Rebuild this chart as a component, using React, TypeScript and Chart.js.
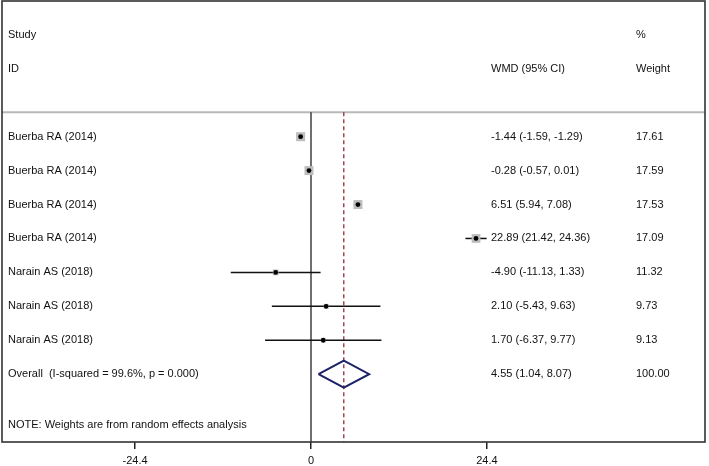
import React, { useEffect, useRef } from "react";
import { Chart, registerables } from "chart.js";

Chart.register(...registerables);

const STUDIES = [
  "Buerba RA (2014)",
  "Buerba RA (2014)",
  "Buerba RA (2014)",
  "Buerba RA (2014)",
  "Narain AS (2018)",
  "Narain AS (2018)",
  "Narain AS (2018)",
];
const ES = [-1.44, -0.28, 6.51, 22.89, -4.9, 2.1, 1.7];
const LO = [-1.59, -0.57, 5.94, 21.42, -11.13, -5.43, -6.37];
const HI = [-1.29, 0.01, 7.08, 24.36, 1.33, 9.63, 9.77];
const WEIGHTS = [17.61, 17.59, 17.53, 17.09, 11.32, 9.73, 9.13];
const OVERALL_LABEL = "Overall  (I-squared = 99.6%, p = 0.000)";
const OVERALL_ES = 4.55;
const OVERALL_LO = 1.04;
const OVERALL_HI = 8.07;
const OVERALL_WEIGHT = "100.00";
const TICKS = [-24.4, 0, 24.4];
const NOTE = "NOTE: Weights are from random effects analysis";

const FONT = '"Liberation Sans", Arial, sans-serif';

function fmt(v: number) {
  return v.toFixed(2);
}

export default function App() {
  const ref = useRef<HTMLCanvasElement | null>(null);

  useEffect(() => {
    if (!ref.current) return;
    const n = ES.length;
    const overallRow = n;
    const sepRow = -0.72;
    const bottomRow = 9;

    const textPlugin = {
      id: "forestText",
      beforeDatasetsDraw(chart: any) {
        const { ctx, chartArea, scales } = chart;
        const y = scales.y;
        ctx.save();
        ctx.strokeStyle = "#b8b8b8";
        ctx.lineWidth = 2;
        ctx.beginPath();
        const sy = y.getPixelForValue(sepRow);
        ctx.moveTo(chartArea.left, sy);
        ctx.lineTo(chartArea.right, sy);
        ctx.stroke();
        ctx.restore();
      },
      afterDatasetsDraw(chart: any) {
        const { ctx, chartArea, scales } = chart;
        const y = scales.y;
        ctx.save();
        ctx.fillStyle = "#111";
        ctx.font = "11px " + FONT;
        ctx.textBaseline = "middle";
        ctx.textAlign = "left";
        const colL = 8;
        const colE = 491;
        const colW = 636;
        ctx.fillText("Study", colL, y.getPixelForValue(-3));
        ctx.fillText("ID", colL, y.getPixelForValue(-2));
        ctx.fillText("WMD (95% CI)", colE, y.getPixelForValue(-2));
        ctx.fillText("%", colW, y.getPixelForValue(-3));
        ctx.fillText("Weight", colW, y.getPixelForValue(-2));
        for (let i = 0; i < n; i++) {
          const py = y.getPixelForValue(i);
          ctx.fillText(STUDIES[i], colL, py);
          ctx.fillText(`${fmt(ES[i])} (${fmt(LO[i])}, ${fmt(HI[i])})`, colE, py);
          ctx.fillText(fmt(WEIGHTS[i]), colW, py);
        }
        const oy = y.getPixelForValue(overallRow);
        ctx.fillText(OVERALL_LABEL, colL, oy);
        ctx.fillText(`${fmt(OVERALL_ES)} (${fmt(OVERALL_LO)}, ${fmt(OVERALL_HI)})`, colE, oy);
        ctx.fillText(OVERALL_WEIGHT, colW, oy);
        ctx.fillText(NOTE, colL, y.getPixelForValue(8.5));
        ctx.strokeStyle = "#333";
        ctx.lineWidth = 1.6;
        ctx.strokeRect(chartArea.left, chartArea.top, chartArea.right - chartArea.left, chartArea.bottom - chartArea.top);
        ctx.restore();
      },
    };

    const ciSets = ES.map((_, i) => ({
      data: [
        { x: LO[i], y: i },
        { x: HI[i], y: i },
      ],
      showLine: true,
      borderColor: "#111",
      borderWidth: 1.5,
      pointRadius: 0,
      order: 3,
    }));

    const chart = new Chart(ref.current, {
      type: "scatter",
      data: {
        datasets: [
          {
            data: ES.map((x, i) => ({ x, y: i })),
            pointStyle: "circle",
            pointRadius: 2.4,
            backgroundColor: "#000",
            borderWidth: 0,
            order: 0,
          },
          {
            data: ES.map((x, i) => ({ x, y: i })),
            pointStyle: "rect",
            pointRadius: WEIGHTS.map((w) => (9 * w) / WEIGHTS[0] / 1.414),
            backgroundColor: "#bdbdbd",
            borderWidth: 0,
            order: 1,
          },
          ...ciSets,
          {
            data: [
              { x: OVERALL_LO, y: overallRow },
              { x: OVERALL_ES, y: overallRow - 0.4 },
              { x: OVERALL_HI, y: overallRow },
              { x: OVERALL_ES, y: overallRow + 0.4 },
              { x: OVERALL_LO, y: overallRow },
            ],
            showLine: true,
            borderColor: "#1c2266",
            borderWidth: 2,
            pointRadius: 0,
            order: 2,
          },
          {
            data: [
              { x: 0, y: sepRow },
              { x: 0, y: bottomRow },
            ],
            showLine: true,
            borderColor: "#111",
            borderWidth: 1.2,
            pointRadius: 0,
            order: 5,
          },
          {
            data: [
              { x: OVERALL_ES, y: sepRow },
              { x: OVERALL_ES, y: bottomRow },
            ],
            showLine: true,
            borderColor: "#8b1a2a",
            borderWidth: 1.2,
            borderDash: [4, 3],
            pointRadius: 0,
            order: 4,
          },
        ],
      } as any,
      options: {
        responsive: false,
        animation: false,
        events: [],
        layout: { autoPadding: false, padding: { left: 2, right: 4, top: 1, bottom: 0 } },
        plugins: {
          legend: { display: false },
          tooltip: { enabled: false },
        },
        scales: {
          x: {
            type: "linear",
            position: "bottom",
            min: -42.86,
            max: 54.65,
            border: { display: false },
            grid: {
              drawOnChartArea: false,
              drawTicks: true,
              tickLength: 7,
              color: "#222",
              lineWidth: 1.5,
            },
            afterBuildTicks: (axis: any) => {
              axis.ticks = TICKS.map((value) => ({ value }));
            },
            afterFit: (axis: any) => {
              axis.height = 24;
            },
            ticks: {
              autoSkip: false,
              maxRotation: 0,
              padding: 5,
              color: "#111",
              font: { family: FONT, size: 11 },
              callback: (v: any) => (v === 0 ? "0" : String(v)),
            },
          },
          y: {
            type: "linear",
            reverse: true,
            min: -4,
            max: 9,
            display: false,
          },
        },
      } as any,
      plugins: [textPlugin],
    });
    return () => chart.destroy();
  }, []);

  return (
    <div style={{ position: "absolute", left: 0, top: 0, width: 709, height: 466, background: "#fff" }}>
      <canvas ref={ref} width={709} height={466} style={{ display: "block" }} />
    </div>
  );
}
